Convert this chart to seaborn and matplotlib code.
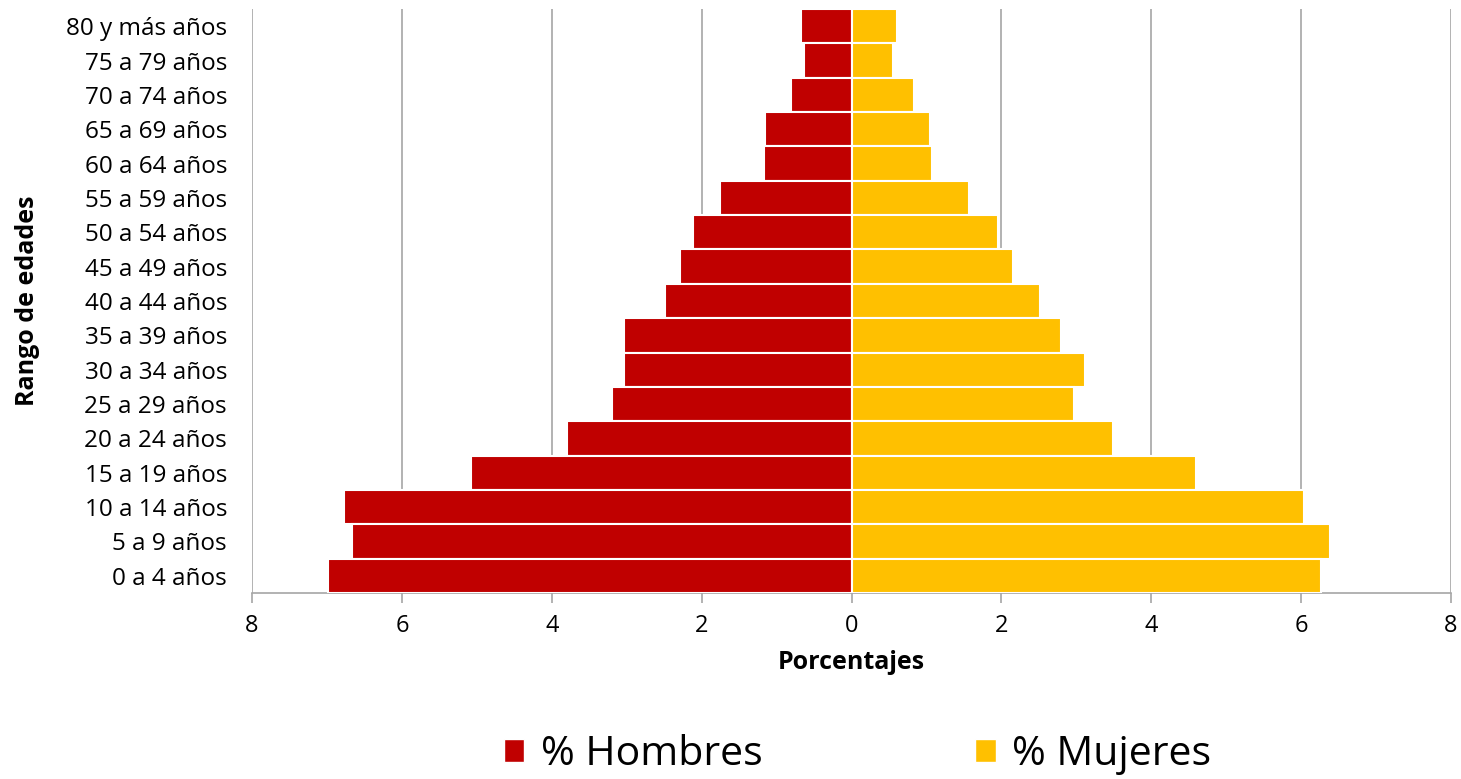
import matplotlib.pyplot as plt
import matplotlib.ticker as mticker
from matplotlib.patches import Patch
import numpy as np
import pandas as pd
import seaborn as sns

# age groups from oldest (top) to youngest (bottom)
age_groups = ["80 y más años", "75 a 79 años", "70 a 74 años", "65 a 69 años",
              "60 a 64 años", "55 a 59 años", "50 a 54 años", "45 a 49 años",
              "40 a 44 años", "35 a 39 años", "30 a 34 años", "25 a 29 años",
              "20 a 24 años", "15 a 19 años", "10 a 14 años", "5 a 9 años",
              "0 a 4 años"]
hombres = [0.67, 0.64, 0.81, 1.15, 1.17, 1.75, 2.11, 2.29, 2.49, 3.03, 3.03,
           3.20, 3.80, 5.08, 6.77, 6.66, 6.98]
mujeres = [0.61, 0.55, 0.83, 1.05, 1.08, 1.57, 1.96, 2.15, 2.52, 2.80, 3.12,
           2.97, 3.49, 4.59, 6.04, 6.38, 6.26]
x_ticks = [-8, -6, -4, -2, 0, 2, 4, 6, 8]

red = "#C00000"
yellow = "#FFC000"

df = pd.DataFrame({"edad": age_groups,
                   "hombres": -np.array(hombres),  # men to the left
                   "mujeres": mujeres})

sns.set_style("white")
plt.rcParams["font.family"] = ["Open Sans", "DejaVu Sans"]
plt.rcParams["text.color"] = "black"
plt.rcParams["axes.labelcolor"] = "black"
plt.rcParams["xtick.color"] = "black"
plt.rcParams["ytick.color"] = "black"

fig = plt.figure(figsize=(14.61, 7.79), dpi=100)
ax = fig.add_axes([0.1725, 0.2388, 0.8207, 0.7496])

sns.barplot(data=df, x="hombres", y="edad", orient="h", color=red, saturation=1,
            width=1.0, edgecolor="white", linewidth=1.5, ax=ax, zorder=3)
sns.barplot(data=df, x="mujeres", y="edad", orient="h", color=yellow, saturation=1,
            width=1.0, edgecolor="white", linewidth=1.5, ax=ax, zorder=3)

ax.set_xlim(-8, 8)
ax.set_ylim(len(age_groups) - 0.5, -0.5)
ax.set_xticks(x_ticks)
ax.xaxis.set_major_formatter(mticker.FuncFormatter(lambda v, pos: f"{abs(v):.0f}"))
ax.grid(axis="x", color="#A6A6A6", linewidth=1.2, zorder=0)
ax.set_axisbelow(True)

for side in ["top", "right", "left"]:
    ax.spines[side].set_visible(False)
ax.spines["bottom"].set_color("#A6A6A6")
ax.spines["bottom"].set_linewidth(1.2)
ax.tick_params(axis="x", bottom=True, direction="out", length=7, width=1.2,
               color="#A6A6A6", labelcolor="black", labelsize=17, pad=8)
ax.tick_params(axis="y", left=False, length=0, labelsize=17.5, pad=18)

ax.set_xlabel("Porcentajes", fontsize=18, fontweight="bold", labelpad=9)
ax.set_ylabel("Rango de edades", fontsize=18, fontweight="bold")
ax.yaxis.set_label_coords(-0.177, 0.5)

handles = [Patch(facecolor=red, label="% Hombres"),
           Patch(facecolor=yellow, label="% Mujeres")]
fig.legend(handles=handles, loc="center", bbox_to_anchor=(0.587, 0.031), ncol=2,
           frameon=False, fontsize=29.5, columnspacing=5.2, handlelength=0.5,
           handleheight=0.5, handletextpad=0.4)

plt.savefig("out.png", dpi=100)
